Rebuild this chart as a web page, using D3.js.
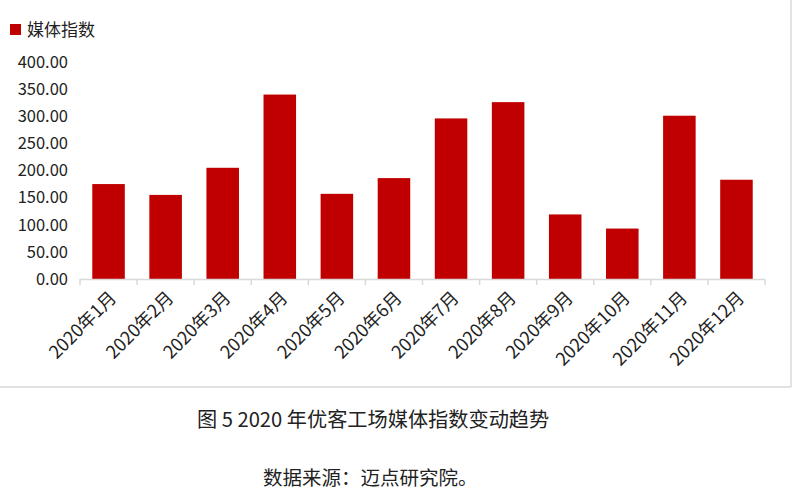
<!DOCTYPE html>
<html><head><meta charset="utf-8">
<script src="https://cdn.jsdelivr.net/npm/d3@7"></script>
<style>body{margin:0;background:#fff}svg{display:block}</style>
</head><body>
<svg id="c" width="800" height="495"></svg>
<script>
const categories = ["2020年1月","2020年2月","2020年3月","2020年4月","2020年5月","2020年6月","2020年7月","2020年8月","2020年9月","2020年10月","2020年11月","2020年12月"];
const values = [175, 155, 205, 340, 157, 186, 296, 326, 119, 93, 301, 183];
const yTicks = [0, 50, 100, 150, 200, 250, 300, 350, 400];
const seriesName = "媒体指数";
const title = "图 5 2020 年优客工场媒体指数变动趋势";
const source = "数据来源：迈点研究院。";

const font = "'Noto Sans CJK SC','Noto Sans',sans-serif";
const svg = d3.select("#c");
const x0 = 80, x1 = 765, yTop = 62, yBase = 279;
const x = d3.scaleBand().domain(categories).range([x0, x1]).paddingInner(0.43).paddingOuter(0.215);
const y = d3.scaleLinear().domain([0, 400]).range([yBase, yTop]);

// frame
svg.append("line").attr("x1",0).attr("x2",791).attr("y1",387).attr("y2",387).attr("stroke","#d9d9d9").attr("stroke-width",1.5);
svg.append("line").attr("x1",791).attr("x2",791).attr("y1",0).attr("y2",387).attr("stroke","#d9d9d9").attr("stroke-width",1.5);

// y axis labels
const ya = svg.append("g").attr("transform",`translate(68,0)`)
  .call(d3.axisLeft(y).tickValues(yTicks).tickSize(0).tickPadding(0).tickFormat(d3.format(".2f")));
ya.select(".domain").remove();
ya.selectAll("text").attr("font-family",font).attr("font-size",16.5).attr("fill","#222");

// bars
svg.append("g").selectAll("rect").data(values).join("rect")
  .attr("x",(d,i)=>x(categories[i])).attr("width",x.bandwidth())
  .attr("y",d=>y(d)).attr("height",d=>yBase-y(d))
  .attr("fill","#C00000");

// x axis line + ticks at band boundaries
const bounds = d3.range(categories.length+1).map(i => x0 + i*(x1-x0)/categories.length);
svg.append("line").attr("x1",x0).attr("x2",x1).attr("y1",yBase+0.5).attr("y2",yBase+0.5).attr("stroke","#d9d9d9").attr("stroke-width",1.5);
svg.append("g").selectAll("line").data(bounds).join("line")
  .attr("x1",d=>d).attr("x2",d=>d).attr("y1",yBase).attr("y2",yBase+6)
  .attr("stroke","#d9d9d9").attr("stroke-width",1.5);

// x labels
svg.append("g").selectAll("text").data(categories).join("text")
  .attr("transform",d=>`translate(${x(d)+x.bandwidth()/2+9},${yBase+20}) rotate(-45)`)
  .attr("text-anchor","end").attr("font-family",font).attr("font-size",18).attr("fill","#222")
  .text(d=>d);

// legend
svg.append("rect").attr("x",10).attr("y",24).attr("width",11).attr("height",11).attr("fill","#C00000");
svg.append("text").attr("x",27).attr("y",36).attr("font-family",font).attr("font-size",17).attr("fill","#222").text(seriesName);

// caption
svg.append("text").attr("x",197).attr("y",427).attr("font-family",font).attr("font-size",20.2).attr("fill","#222").text(title);
svg.append("text").attr("x",263).attr("y",485).attr("font-family",font).attr("font-size",19.5).attr("fill","#222").text(source);
</script>
</body></html>
